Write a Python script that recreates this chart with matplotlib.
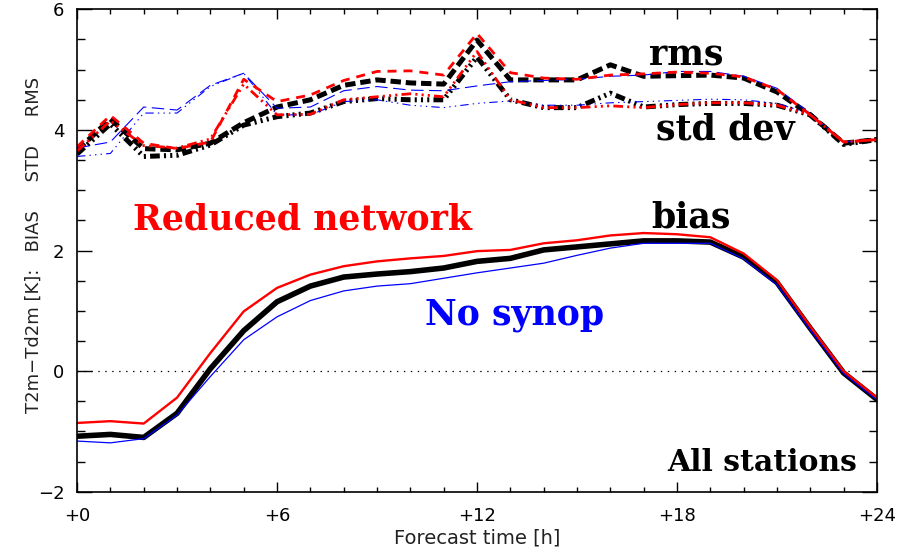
import matplotlib
matplotlib.use("Agg")
import matplotlib.pyplot as plt
from matplotlib.ticker import MultipleLocator

plt.rcParams["lines.scale_dashes"] = False

hours = list(range(25))

# bias
bias_all = [-1.08, -1.05, -1.10, -0.70, 0.04, 0.67, 1.15, 1.41, 1.56, 1.61, 1.65, 1.71, 1.82,
            1.87, 2.01, 2.06, 2.11, 2.16, 2.16, 2.14, 1.89, 1.47, 0.71, -0.03, -0.47]
bias_red = [-0.86, -0.83, -0.87, -0.44, 0.30, 0.99, 1.38, 1.60, 1.74, 1.82, 1.87, 1.91, 1.99,
            2.01, 2.12, 2.17, 2.25, 2.29, 2.27, 2.22, 1.95, 1.51, 0.74, 0.00, -0.44]
bias_blue = [-1.16, -1.19, -1.12, -0.73, -0.09, 0.52, 0.90, 1.17, 1.33, 1.41, 1.45, 1.54, 1.63,
             1.71, 1.79, 1.92, 2.04, 2.12, 2.12, 2.12, 1.86, 1.43, 0.68, -0.04, -0.48]

# rms
rms_all = [3.66, 4.18, 3.69, 3.67, 3.78, 4.12, 4.38, 4.50, 4.74, 4.83, 4.78, 4.76, 5.49,
           4.83, 4.83, 4.83, 5.08, 4.89, 4.90, 4.91, 4.86, 4.63, 4.25, 3.78, 3.84]
rms_red = [3.72, 4.24, 3.78, 3.69, 3.80, 4.84, 4.47, 4.58, 4.82, 4.97, 4.98, 4.91, 5.60,
           4.95, 4.86, 4.84, 4.91, 4.93, 4.96, 4.94, 4.88, 4.67, 4.25, 3.80, 3.84]
rms_blue = [3.70, 3.80, 4.38, 4.33, 4.74, 4.94, 4.36, 4.38, 4.65, 4.72, 4.66, 4.65, 4.73,
            4.80, 4.82, 4.84, 4.89, 4.91, 4.97, 4.97, 4.89, 4.69, 4.27, 3.80, 3.84]

# std dev
std_all = [3.60, 4.10, 3.56, 3.58, 3.75, 4.08, 4.22, 4.28, 4.47, 4.52, 4.50, 4.50, 5.21,
           4.50, 4.37, 4.37, 4.61, 4.38, 4.42, 4.44, 4.44, 4.41, 4.25, 3.76, 3.84]
std_red = [3.65, 4.15, 3.74, 3.70, 3.85, 4.76, 4.25, 4.26, 4.50, 4.55, 4.60, 4.55, 5.30,
           4.50, 4.37, 4.37, 4.40, 4.37, 4.42, 4.45, 4.45, 4.41, 4.25, 3.80, 3.84]
std_blue = [3.56, 3.61, 4.28, 4.28, 4.72, 4.94, 4.25, 4.25, 4.47, 4.50, 4.41, 4.37, 4.44,
            4.48, 4.41, 4.41, 4.45, 4.47, 4.49, 4.51, 4.50, 4.44, 4.27, 3.80, 3.84]

xticks = [0, 6, 12, 18, 24]
xticklabels = ["+0", "+6", "+12", "+18", "+24"]
yticks = [-2, 0, 2, 4, 6]
yticklabels = ["\u22122", "0", "2", "4", "6"]

fig = plt.figure(figsize=(8.99, 5.50), dpi=100)
ax = fig.add_axes([0.0857, 0.106, 0.8898, 0.877])

dash_rms_k = (0, (7.5, 3.5))
dash_rms_r = (0, (6.5, 5))
dash_rms_b = (0, (9, 4))
dash_std = (0, (7, 3, 1.5, 3, 1.5, 3, 1.5, 3))
dash_std_b = (0, (6, 3, 1, 3, 1, 3, 1, 3))

ax.axhline(0, color="black", linestyle=(0, (1, 4)), linewidth=0.9)

# black = all stations, blue = no synop, red = reduced network
ax.plot(hours, rms_all, color="black", linewidth=3.6, linestyle=dash_rms_k)
ax.plot(hours, std_all, color="black", linewidth=3.6, linestyle=dash_std)
ax.plot(hours, rms_blue, color="blue", linewidth=0.8, linestyle=dash_rms_b)
ax.plot(hours, std_blue, color="blue", linewidth=0.8, linestyle=dash_std_b)
ax.plot(hours, rms_red, color="red", linewidth=2.0, linestyle=dash_rms_r)
ax.plot(hours, std_red, color="red", linewidth=2.0, linestyle=dash_std)

ax.plot(hours, bias_all, color="black", linewidth=4.0)
ax.plot(hours, bias_blue, color="blue", linewidth=0.9)
ax.plot(hours, bias_red, color="red", linewidth=1.7)

ax.set_xlim(0, 24)
ax.set_ylim(-2, 6)
ax.set_xticks(xticks)
ax.set_xticklabels(xticklabels)
ax.set_yticks(yticks)
ax.set_yticklabels(yticklabels)
ax.xaxis.set_minor_locator(MultipleLocator(1))
ax.yaxis.set_minor_locator(MultipleLocator(0.5))
ax.tick_params(which="both", direction="in", top=True, right=True,
               labelsize=13, width=1.0)
ax.tick_params(axis="x", which="major", length=7, pad=11)
ax.tick_params(axis="x", which="minor", length=3.5)
ax.tick_params(axis="y", which="major", length=11, pad=9)
ax.tick_params(axis="y", which="minor", length=5.5)
for s in ax.spines.values():
    s.set_linewidth(1.2)

fig.text(0.531, 0.022, "Forecast time [h]", ha="center", va="center", fontsize=14, color="#222222")
fig.text(0.037, 0.555, "T2m\u2212Td2m [K]:   BIAS     STD     RMS", rotation=90,
         ha="center", va="center", fontsize=13, color="#222222")

tfont = dict(family="DejaVu Serif", fontweight="bold", ha="center", va="center")
ax.text(18.27, 5.24, "rms", fontsize=25, color="black", **tfont)
ax.text(19.44, 4.0, "std dev", fontsize=25, color="black", **tfont)
ax.text(18.42, 2.54, "bias", fontsize=25, color="black", **tfont)
ax.text(6.75, 2.51, "Reduced network", fontsize=25, color="red", **tfont)
ax.text(13.14, 0.93, "No synop", fontsize=25, color="blue", **tfont)
ax.text(20.55, -1.51, "All stations", fontsize=21.5, color="black", **tfont)

plt.savefig("out.png", dpi=100)
